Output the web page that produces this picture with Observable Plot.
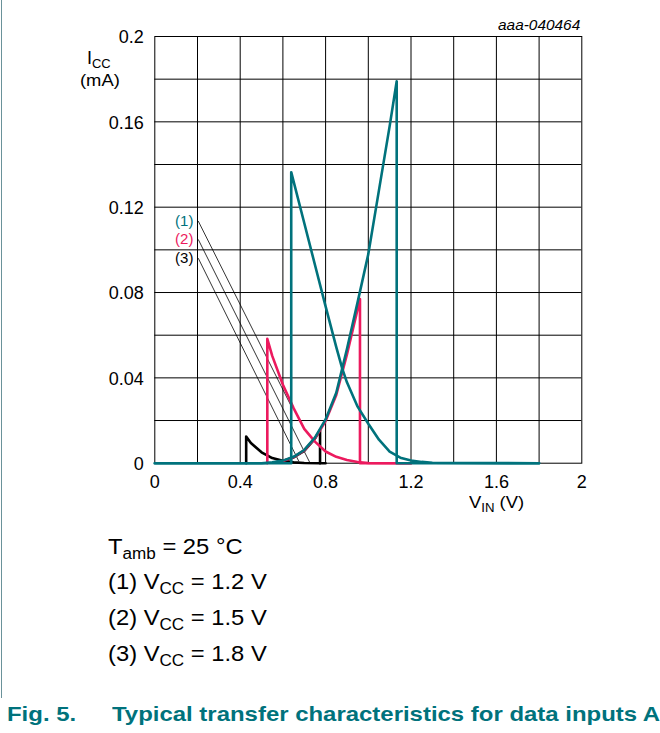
<!DOCTYPE html>
<html>
<head>
<meta charset="utf-8">
<script src="https://cdn.jsdelivr.net/npm/d3@7"></script>
<script src="https://cdn.jsdelivr.net/npm/@observablehq/plot@0.6"></script>
<style>
  html, body { margin: 0; padding: 0; background: #fff; }
  #wrap { position: relative; width: 660px; height: 733px; font-family: "Liberation Sans", Arial, sans-serif; color: #000; overflow: hidden; }
  .abs { position: absolute; white-space: nowrap; transform-origin: 0 50%; }
  .sub { font-size: 0.72em; position: relative; top: 0.3em; }
  .blk { font-size: 22px; transform: scaleX(1.08); }
  .cap { font-size: 21px; font-weight: bold; color: #00727c; transform: scaleX(1.14); }
  #leftline { position: absolute; left: 1px; top: 0; width: 1px; height: 698px; background: #6a929a; }
</style>
</head>
<body>
<div id="wrap">
  <div id="leftline"></div>
  <div id="chart" class="abs" style="left:0;top:0"></div>
  <div class="abs" style="left:498px;top:17px;font-size:14px;font-style:italic;transform:scaleX(1.1);">aaa-040464</div>
  <div class="abs" style="left:87px;top:48px;font-size:18px;">I<span class="sub">CC</span></div>
  <div class="abs" style="left:80px;top:71px;font-size:17px;transform:scaleX(1.08);">(mA)</div>
  <div class="abs" style="left:469px;top:494px;font-size:17px;line-height:17px;transform:scaleX(1.08);">V<span class="sub">IN</span> (V)</div>
  <div class="abs blk" style="left:108px;top:534px;">T<span class="sub">amb</span> = 25 °C</div>
  <div class="abs blk" style="left:108px;top:569px;">(1) V<span class="sub">CC</span> = 1.2 V</div>
  <div class="abs blk" style="left:108px;top:605px;">(2) V<span class="sub">CC</span> = 1.5 V</div>
  <div class="abs blk" style="left:108px;top:641px;">(3) V<span class="sub">CC</span> = 1.8 V</div>
  <div class="abs cap" style="left:7px;top:702px;">Fig. 5.</div>
  <div class="abs cap" style="left:112px;top:702px;">Typical transfer characteristics for data inputs A</div>
</div>
<script>
// ---- data ----
const xTicks = [0, 0.4, 0.8, 1.2, 1.6, 2];
const yTicks = [0, 0.04, 0.08, 0.12, 0.16, 0.2];
const xGrid = [0.2, 0.4, 0.6, 0.8, 1.0, 1.2, 1.4, 1.6, 1.8];
const yGrid = [0.02, 0.04, 0.06, 0.08, 0.1, 0.12, 0.14, 0.16, 0.18];

// (1) VCC = 1.2 V  (teal)
const vinUp1 = [0, 0.5, 0.55, 0.6, 0.65, 0.7, 0.75, 0.8, 0.85, 0.9, 0.95, 1.0, 1.05, 1.1, 1.133, 1.133, 1.8];
const iccUp1 = [0, 0, 0.0004, 0.0012, 0.003, 0.0062, 0.012, 0.0205, 0.033, 0.0535, 0.0755, 0.098, 0.128, 0.158, 0.179, 0, 0];
const vinDn1 = [0, 0.639, 0.639, 0.7, 0.75, 0.8, 0.85, 0.878, 0.9, 0.95, 1.0, 1.05, 1.1, 1.15, 1.2, 1.25, 1.3, 1.8];
const iccDn1 = [0, 0, 0.1364, 0.1126, 0.093, 0.0735, 0.0544, 0.0443, 0.0379, 0.0265, 0.0185, 0.011, 0.0054, 0.0026, 0.0013, 0.0006, 0.0002, 0];

// (2) VCC = 1.5 V  (pink)
const vinUp2 = [0.6, 0.65, 0.7, 0.75, 0.8, 0.85, 0.9, 0.94, 0.961, 0.961, 1.2];
const iccUp2 = [0.001, 0.0028, 0.006, 0.0115, 0.0198, 0.032, 0.051, 0.068, 0.077, 0, 0];
const vinDn2 = [0.527, 0.527, 0.55, 0.6, 0.65, 0.7, 0.75, 0.8, 0.85, 0.9, 0.95, 1.0, 1.2];
const iccDn2 = [0, 0.0583, 0.0503, 0.0368, 0.0258, 0.0161, 0.0101, 0.0055, 0.003, 0.0015, 0.0006, 0.0001, 0];

// (3) VCC = 1.8 V  (black)
const vinUp3 = [0.6, 0.65, 0.7, 0.75, 0.774, 0.774, 0.8];
const iccUp3 = [0.001, 0.0027, 0.0058, 0.0115, 0.0155, 0, 0];
const vinDn3 = [0.428, 0.428, 0.45, 0.5, 0.55, 0.6, 0.65, 0.7, 0.774];
const iccDn3 = [0, 0.0125, 0.0095, 0.0051, 0.0024, 0.0011, 0.0004, 0.0001, 0];

// curve labels and leader lines
const labelText = ["(1)", "(2)", "(3)"];
const labelColor = ["#00727c", "#ec1a5e", "#000000"];
const labelX = [0.181, 0.181, 0.181];
const labelY = [0.1133, 0.1049, 0.0961];
const leadX1 = [0.2035, 0.2035, 0.2035];
const leadY1 = [0.1135, 0.1049, 0.0961];
const leadX2 = [0.6376, 0.725, 0.675];
const leadY2 = [0.027, 0.0005, 0.0008];

const TEAL = "#00727c", PINK = "#ec1a5e", BLACK = "#000000";

const toPts = (xs, ys) => xs.map((x, i) => ({x, y: ys[i]}));
const leaders = leadX1.map((x1, i) => ({x1, y1: leadY1[i], x2: leadX2[i], y2: leadY2[i]}));
const labels = labelText.map((t, i) => ({t, x: labelX[i], y: labelY[i], c: labelColor[i]}));

const curve = (xs, ys, stroke) => Plot.line(toPts(xs, ys), {x: "x", y: "y", stroke, strokeWidth: 2.6, strokeLinejoin: "round", curve: "linear"});

const chart = Plot.plot({
  width: 660,
  height: 515,
  marginLeft: 154.3,
  marginRight: 78.7,
  marginTop: 36,
  marginBottom: 52.3,
  style: {fontFamily: "'Liberation Sans', Arial, sans-serif", fontSize: "18px", color: "#000", background: "transparent"},
  x: {domain: [0, 2]},
  y: {domain: [0, 0.2]},
  marks: [
    Plot.ruleX(xGrid, {stroke: "#000", strokeWidth: 1}),
    Plot.ruleY(yGrid, {stroke: "#000", strokeWidth: 1}),
    Plot.frame({stroke: "#000", strokeWidth: 1}),
    Plot.axisX(xTicks, {tickSize: 0, tickPadding: 12, label: null, tickFormat: d => String(d), fontSize: 18}),
    Plot.axisY(yTicks, {tickSize: 0, tickPadding: 11, label: null, tickFormat: d => String(d), fontSize: 18, dy: 1}),
    Plot.link(leaders, {x1: "x1", y1: "y1", x2: "x2", y2: "y2", stroke: "#000", strokeWidth: 0.8}),
    curve(vinUp3, iccUp3, BLACK),
    curve(vinDn3, iccDn3, BLACK),
    curve(vinUp2, iccUp2, PINK),
    curve(vinDn2, iccDn2, PINK),
    curve(vinUp1, iccUp1, TEAL),
    curve(vinDn1, iccDn1, TEAL),
    Plot.text(labels, {x: "x", y: "y", text: "t", fill: "c", textAnchor: "end", fontSize: 15})
  ]
});
document.getElementById("chart").appendChild(chart);
</script>
</body>
</html>
